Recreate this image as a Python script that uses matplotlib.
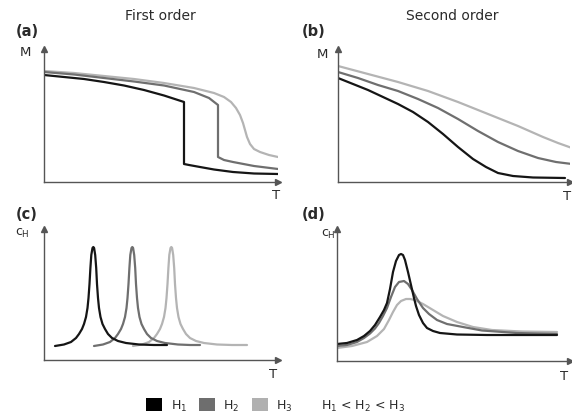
import matplotlib
matplotlib.use("Agg")
import matplotlib.pyplot as plt
from matplotlib.patches import Rectangle

plt.rcParams['mathtext.default'] = 'regular'
plt.rcParams['font.family'] = ['DejaVu Sans']

W, H = 572, 414
C1, C2, C3 = '#151515', '#6f6f6f', '#b4b4b4'
AXC = '#555555'

# ---- data (arbitrary units) ----
# (a) first order M(T)
a_x1 = [0, 20, 40, 60, 80, 100, 120, 140, 140, 145, 156, 170, 189, 210, 234]
a_y1 = [107, 105, 103, 100, 96.5, 92, 86.5, 80, 18, 17, 15, 12.5, 10, 8.5, 8]
a_x2 = [0, 30, 60, 90, 120, 150, 165, 174, 174, 180, 189, 210, 234]
a_y2 = [110, 107.5, 104, 100.5, 96.5, 90, 84, 77, 25, 22, 20, 16, 13]
a_x3 = [0, 30, 60, 90, 120, 150, 170, 180, 187, 192, 196, 199, 201, 203, 206, 210, 216, 225, 234]
a_y3 = [111, 109, 106, 103, 99, 94, 89, 85, 80, 74, 67, 59, 52, 45, 38, 33, 30, 27, 25]

# (b) second order M(T)
b_x1 = [0, 15, 30, 45, 60, 75, 90, 105, 120, 135, 148, 160, 175, 195, 227]
b_y1 = [104, 98, 92, 85, 78, 70, 60, 48, 35, 23, 15, 9, 6, 4.5, 4]
b_x2 = [0, 20, 40, 60, 80, 100, 120, 140, 160, 180, 200, 218, 234]
b_y2 = [110, 104, 97, 91, 83, 74, 63, 51, 40, 31, 24, 20, 18]
b_x3 = [0, 30, 60, 90, 120, 150, 180, 205, 220, 234]
b_y3 = [116, 108, 100, 91, 80, 68, 56, 45, 39, 34]

# (c) first order heat capacity
c_x1 = [11, 20, 27, 32, 35, 38, 40, 42, 43.5, 44.5, 45.5, 46.4, 47.3, 48.5, 49.3, 50.1,
        51.2, 52.2, 53, 54, 55, 56.5, 58.5, 61, 64, 68, 74, 82, 95, 110, 123]
c_y1 = [14, 15.5, 18, 22, 26, 31, 36, 43, 52, 62, 76, 92, 105, 112, 113, 112,
        105, 92, 76, 62, 52, 43, 36, 31, 26, 22, 19, 17, 15.5, 15, 15]
c_x2 = [50, 59, 66, 71, 74, 77, 79, 81, 82.5, 83.5, 84.5, 85.4, 86.3, 87.5, 88.3, 89.1,
        90.2, 91.2, 92, 93, 94, 95.5, 97.5, 100, 103, 107, 113, 121, 134, 146, 156]
c_y2 = [14, 15.5, 18, 22, 26, 31, 36, 43, 52, 62, 76, 92, 105, 112, 113, 112,
        105, 92, 76, 62, 52, 43, 36, 31, 26, 22, 19, 17, 15.5, 15, 15]
c_x3 = [89, 98, 105, 110, 113, 116, 118, 120, 121.5, 122.5, 123.5, 124.4, 125.3, 126.5, 127.3, 128.1,
        129.2, 130.2, 131, 132, 133, 134.5, 136.5, 139, 142, 146, 152, 160, 173, 188, 203]
c_y3 = [14, 15.5, 18, 22, 26, 31, 36, 43, 52, 62, 76, 92, 105, 112, 113, 112,
        105, 92, 76, 62, 52, 43, 36, 31, 26, 22, 19, 17, 15.5, 15, 15]

# (d) second order heat capacity
d_x1 = [0, 10, 20, 27, 33, 38, 43, 47, 50, 53, 56, 59, 62, 64, 66, 68, 71, 74, 77, 79, 82, 86,
        90, 96, 103, 120, 150, 220]
d_y1 = [17, 18, 21, 25, 30, 36, 44, 51, 58, 72, 89, 100, 106, 107, 106, 101, 89, 76, 63, 55, 46, 38,
        33, 30, 28, 26.5, 26, 26]
d_x2 = [0, 10, 20, 27, 33, 38, 42, 46, 50, 54, 58, 62, 67, 71, 75, 80, 86, 92, 100, 110, 126,
        145, 180, 220]
d_y2 = [15, 16, 19, 23, 27.5, 32.5, 38, 45, 53, 64, 74, 79, 80, 77, 71, 62, 53, 47, 41, 37, 34,
        30.5, 28, 27]
d_x3 = [0, 15, 30, 40, 47, 52, 56, 60, 64, 69, 73, 78, 86, 96, 106, 120, 136, 155, 185, 220]
d_y3 = [13, 15, 19, 25, 32, 41, 49, 56, 60, 62, 62, 61, 57, 51, 45, 39, 34, 31, 29.5, 29]

legend_labels = ['H$_1$', 'H$_2$', 'H$_3$']
legend_colors = ['#000000', '#6e6e6e', '#b0b0b0']

fig = plt.figure(figsize=(W/100, H/100), dpi=100)
fig.patch.set_facecolor('white')

def make_ax(x0, y0, w, h):
    ax = fig.add_axes([x0/W, (H-y0)/H, w/W, h/H])
    ax.set_xlim(0, w)
    ax.set_ylim(0, h)
    for s in ['top', 'right']:
        ax.spines[s].set_visible(False)
    for s in ['left', 'bottom']:
        ax.spines[s].set_color(AXC)
        ax.spines[s].set_linewidth(1.0)
    ax.set_xticks([]); ax.set_yticks([])
    ax.patch.set_alpha(0)
    ax.plot(1, 0, '>', color=AXC, ms=5, transform=ax.transAxes, clip_on=False)
    ax.plot(0, 1, '^', color=AXC, ms=5, transform=ax.transAxes, clip_on=False)
    return ax

lw = 1.6
kw = dict(lw=lw, solid_joinstyle='round', solid_capstyle='round')
ax = make_ax(44, 183, 234, 133)
ax.plot(a_x3, a_y3, color=C3, **kw)
ax.plot(a_x2, a_y2, color=C2, **kw)
ax.plot(a_x1, a_y1, color=C1, **kw)

ax = make_ax(338, 183, 232, 133)
ax.plot(b_x3, b_y3, color=C3, **kw)
ax.plot(b_x2, b_y2, color=C2, **kw)
ax.plot(b_x1, b_y1, color=C1, **kw)

ax = make_ax(44, 361, 234, 131)
ax.plot(c_x3, c_y3, color=C3, **kw)
ax.plot(c_x2, c_y2, color=C2, **kw)
ax.plot(c_x1, c_y1, color=C1, **kw)

ax = make_ax(337, 362, 233, 132)
ax.plot(d_x3, d_y3, color=C3, **kw)
ax.plot(d_x2, d_y2, color=C2, **kw)
ax.plot(d_x1, d_y1, color=C1, **kw)

def t(x, y, s, **kw):
    kw.setdefault('color', '#2a2a2a')
    kw.setdefault('va', 'center')
    fig.text(x/W, 1 - y/H, s, **kw)

t(160, 16, 'First order', fontsize=10, ha='center')
t(452, 16, 'Second order', fontsize=10, ha='center')
t(16, 32, '(a)', fontsize=10.5, weight='bold', ha='left')
t(302, 32, '(b)', fontsize=10.5, weight='bold', ha='left')
t(16, 215, '(c)', fontsize=10.5, weight='bold', ha='left')
t(302, 215, '(d)', fontsize=10.5, weight='bold', ha='left')
t(25, 53, 'M', fontsize=9.5, ha='center')
t(322, 55, 'M', fontsize=9.5, ha='center')
t(22, 233, 'c$_H$', fontsize=9, ha='center')
t(328, 234, 'c$_H$', fontsize=9, ha='center')
t(276, 196, 'T', fontsize=9.5, ha='center')
t(567, 197, 'T', fontsize=9.5, ha='center')
t(273, 375, 'T', fontsize=9.5, ha='center')
t(564, 377, 'T', fontsize=9.5, ha='center')

sq_x = [146, 199, 252]
lab_x = [171, 223, 276]
for sx, lx, c, lab in zip(sq_x, lab_x, legend_colors, legend_labels):
    fig.patches.append(Rectangle((sx/W, 1 - 412/H), 16/W, 13/H, transform=fig.transFigure,
                                 facecolor=c, edgecolor='none'))
    t(lx, 406, lab, fontsize=9, ha='left')
t(321, 406, 'H$_1$ < H$_2$ < H$_3$', fontsize=9, ha='left')

fig.savefig('out.png', dpi=100, facecolor='white')
